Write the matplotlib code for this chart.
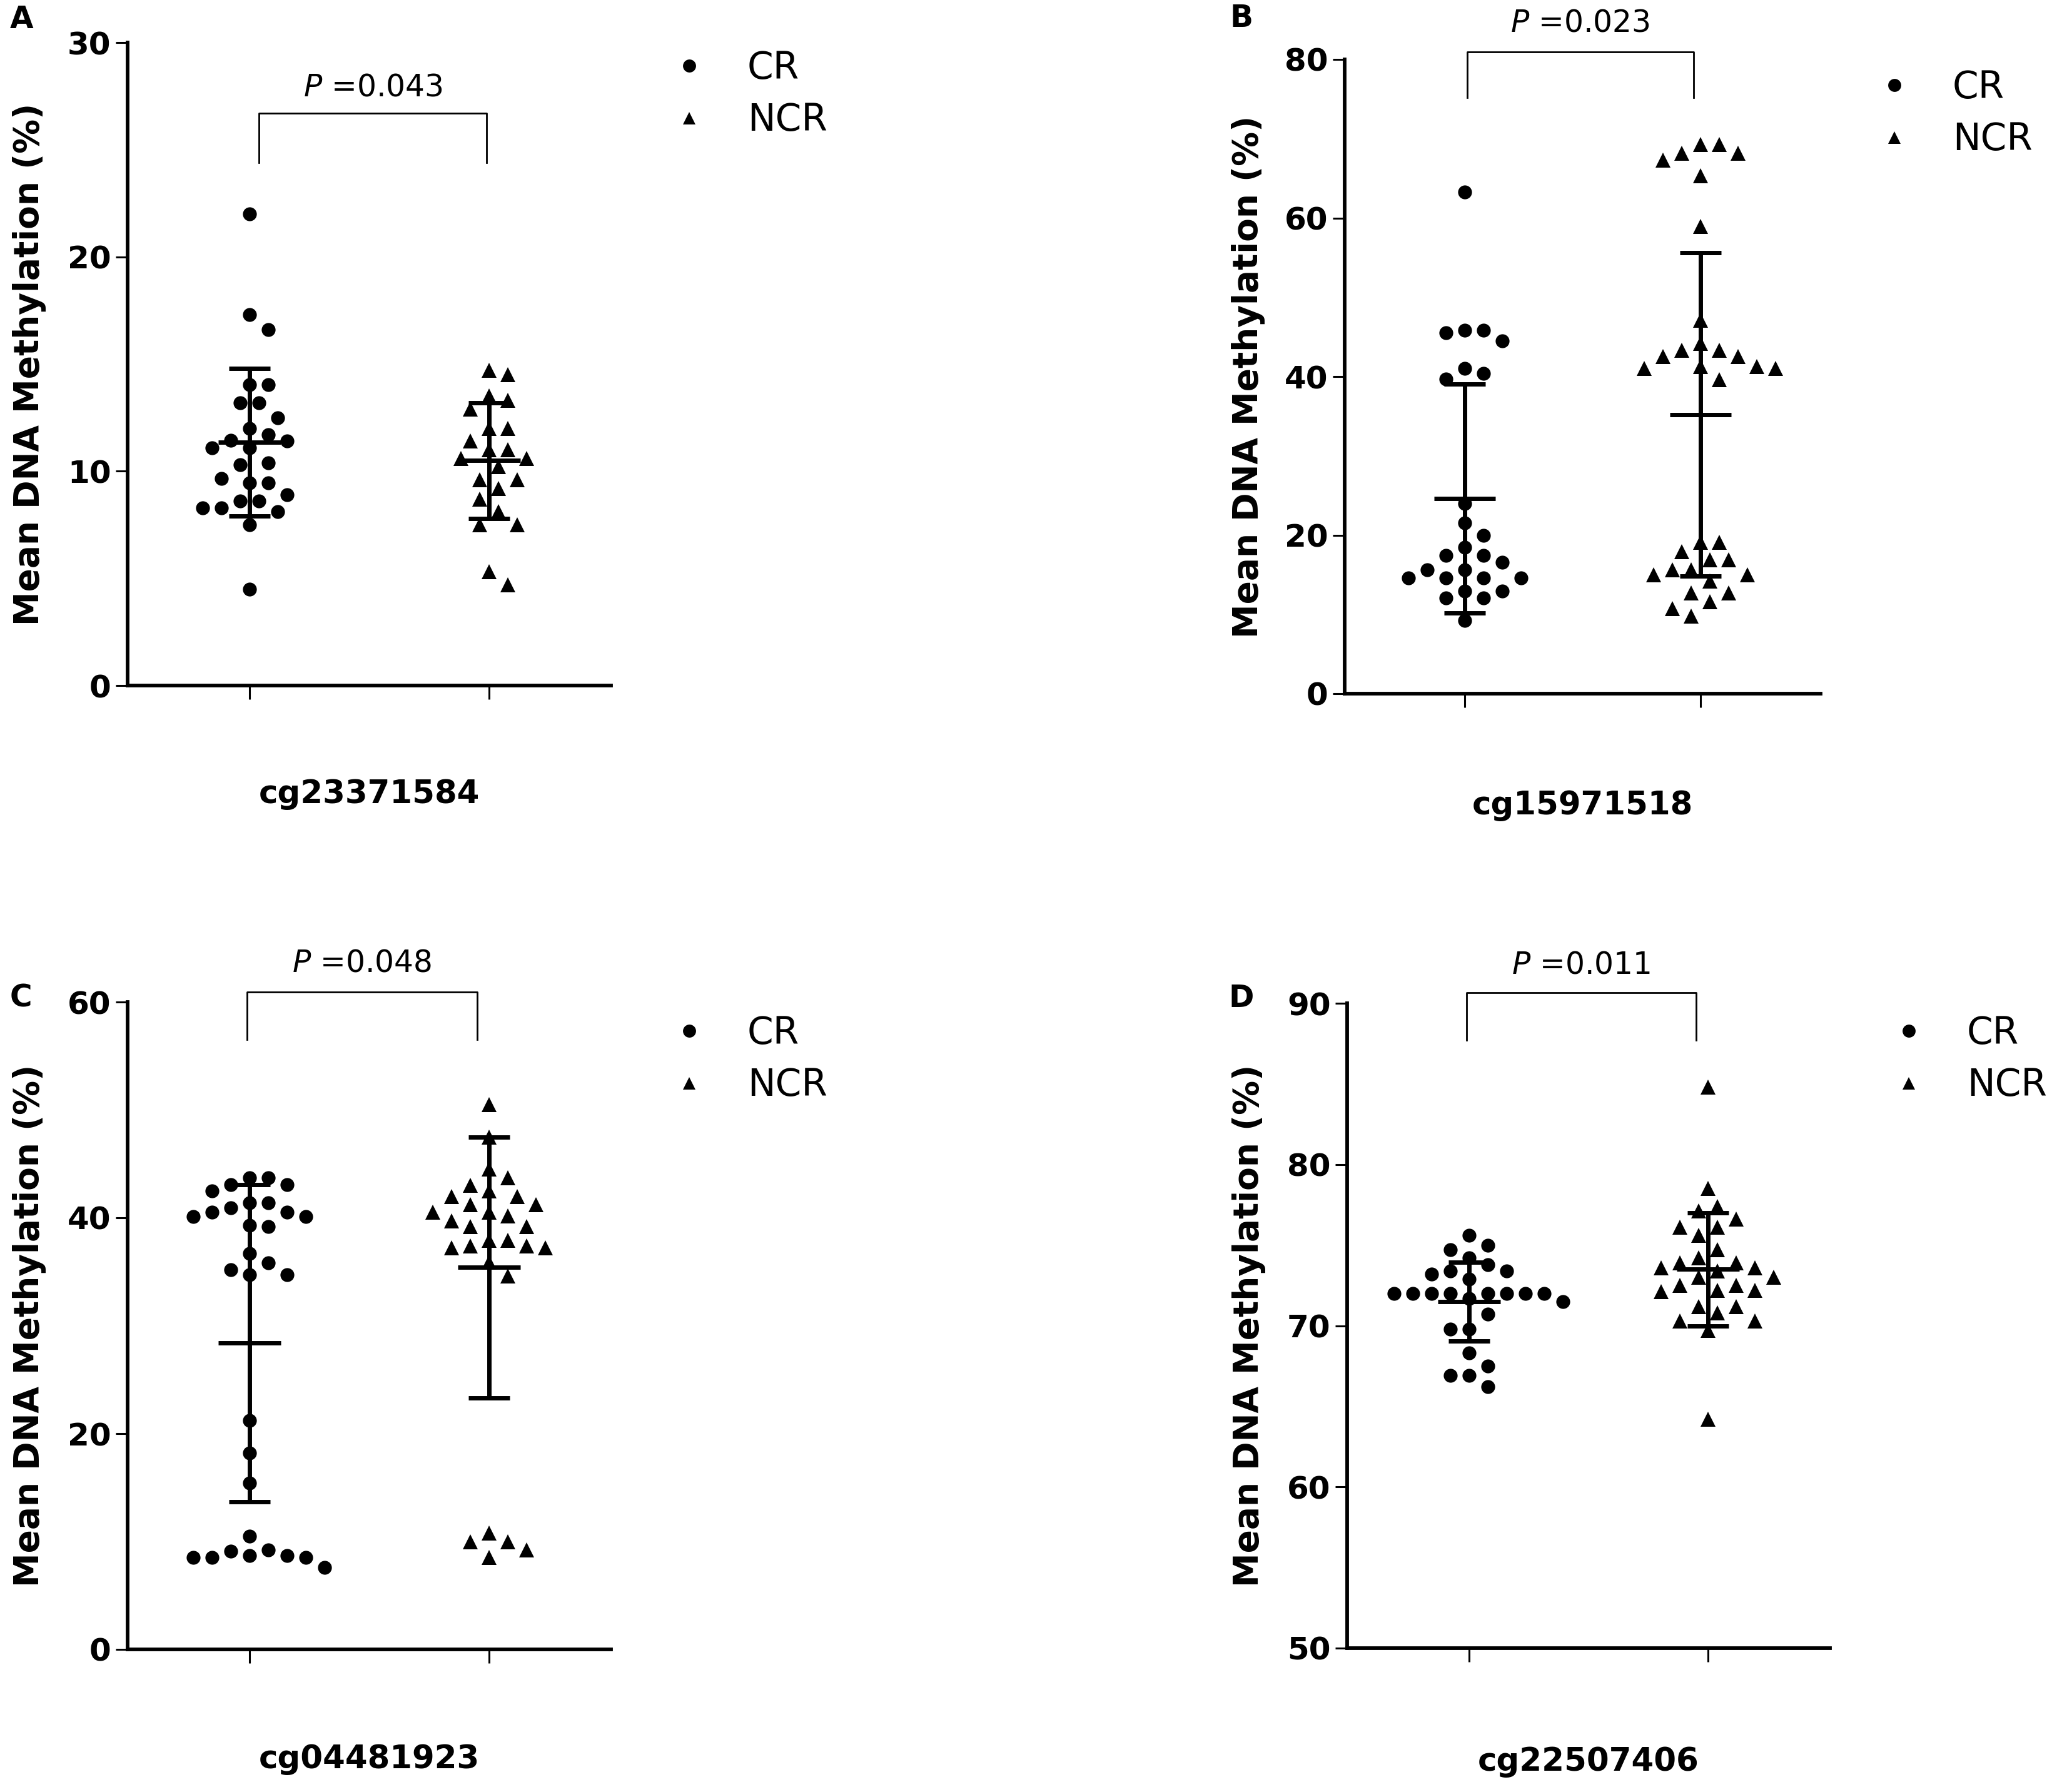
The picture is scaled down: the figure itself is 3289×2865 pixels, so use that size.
import numpy as np
import matplotlib.pyplot as plt
from matplotlib.lines import Line2D

# values (mean DNA methylation, %)
groups = ["CR", "NCR"]
probes = ["cg23371584", "cg15971518", "cg04481923", "cg22507406"]
letters = ["A", "B", "C", "D"]
p_labels = ["0.043", "0.023", "0.048", "0.011"]

a_cr = [22.0, 17.3, 16.6, 14.05, 14.05, 13.2, 13.2, 12.5, 12.0, 11.7, 11.45,
        11.4, 11.1, 11.1, 10.4, 10.3, 9.65, 9.45, 9.45, 8.9, 8.6, 8.6, 8.3, 8.3,
        8.1, 7.5, 4.5]
a_ncr = [14.7, 14.5, 13.5, 13.3, 12.9, 12.0, 12.0, 11.4, 11.0, 11.0, 10.6, 10.6,
         10.2, 9.6, 9.6, 9.2, 8.7, 8.1, 7.5, 7.5, 5.3, 4.7]
b_cr = [63.3, 45.8, 45.8, 45.5, 44.5, 41.0, 40.4, 39.7, 24.0, 21.5, 20.0, 18.5,
        17.4, 17.4, 16.6, 15.6, 15.6, 14.6, 14.6, 14.6, 14.6, 12.9, 12.9, 12.1,
        12.1, 9.2]
b_ncr = [69.3, 69.3, 68.2, 68.2, 67.3, 65.3, 58.9, 47.1, 44.2, 43.3, 43.3, 42.5,
         42.5, 41.3, 41.3, 41.0, 41.0, 39.6, 19.1, 19.1, 17.9, 16.9, 16.9, 15.6,
         15.6, 15.0, 15.0, 14.2, 12.7, 12.7, 11.6, 10.7, 9.8]
c_cr = [43.7, 43.7, 43.1, 43.1, 42.5, 41.4, 41.4, 40.9, 40.5, 40.5, 40.1, 40.1,
        39.3, 39.2, 36.7, 35.8, 35.2, 34.7, 34.7, 21.2, 18.2, 15.4, 10.5, 9.2,
        9.1, 8.7, 8.7, 8.5, 8.5, 8.5, 7.6]
c_ncr = [50.5, 47.5, 44.5, 43.7, 43.0, 42.5, 42.0, 42.0, 41.2, 41.2, 40.5, 40.5,
         40.2, 39.7, 39.2, 39.2, 37.9, 37.9, 37.4, 37.4, 37.2, 37.2, 35.9, 34.6,
         10.8, 10.0, 10.0, 9.2, 8.5]
d_cr = [75.6, 75.0, 74.7, 74.2, 73.8, 73.4, 73.4, 73.2, 72.9, 72.0, 72.0, 72.0,
        72.0, 72.0, 72.0, 72.0, 72.0, 71.7, 71.5, 70.7, 69.8, 69.8, 68.3, 67.5,
        66.9, 66.9, 66.2]
d_ncr = [84.8, 78.5, 77.4, 77.1, 76.6, 76.1, 76.1, 75.6, 74.7, 74.2, 73.9, 73.9,
         73.6, 73.6, 73.4, 73.0, 73.0, 72.5, 72.5, 72.2, 72.2, 72.1, 71.2, 71.2,
         70.8, 70.3, 70.3, 69.7, 64.2]

# mean and SD bars as drawn
means = [(11.35, 10.5), (24.6, 35.2), (28.4, 35.4), (71.5, 73.5)]
sds = [(3.45, 2.7), (14.45, 20.4), (14.7, 12.1), (2.45, 3.5)]

series = [(a_cr, a_ncr), (b_cr, b_ncr), (c_cr, c_ncr), (d_cr, d_ncr)]
ylims = [(0, 30), (0, 80), (0, 60), (50, 90)]
ysteps = [10, 20, 20, 10]

# layout (pixels in the 3289 x 2865 figure)
W, H = 3289, 2865
boxes = [(204, 68, 977, 1096), (2150, 95, 2911, 1109),
         (204, 1602, 977, 2637), (2154, 1604, 2926, 2635)]
letter_pos = [(35, 31), (1985, 29), (33, 1596), (1985, 1596)]
legend_pos = [(1072, 80), (2999, 111), (1072, 1623), (3022, 1623)]
bracket_x = [(0.04, 0.99), (0.01, 0.97), (-0.01, 0.95), (-0.01, 0.95)]
bracket_y = [(24.4, 26.7, 27.9), (75.2, 80.97, 84.6),
             (56.5, 60.9, 63.6), (87.7, 90.66, 92.4)]
xlabel_y = [-0.169, -0.177, -0.170, -0.177]
markers = ["o", "^"]
msizes = [16, 17]


def swarm(ax, values, center, dist_px=30):
    # simple beeswarm: offsets computed from the values in pixel space
    x0, y0 = ax.transData.transform((0, 0))
    x1, y1 = ax.transData.transform((1, 1))
    sx, sy = x1 - x0, y1 - y0
    vals = np.asarray(values, dtype=float)
    xs = np.zeros(len(vals))
    placed = []
    step = dist_px / 2
    for i in np.argsort(vals)[::-1]:
        ypx = vals[i] * sy
        chosen = 0.0
        for k in range(200):
            found = False
            for sign in ([1] if k == 0 else [1, -1]):
                off = sign * k * step
                if all((off - px) ** 2 + (ypx - py) ** 2 >= dist_px ** 2 for px, py in placed):
                    chosen = off
                    found = True
                    break
            if found:
                break
        placed.append((chosen, ypx))
        xs[i] = center + chosen / sx
    return xs


fig = plt.figure(figsize=(W / 100, H / 100), dpi=100)

for p in range(4):
    l, t, r, b = boxes[p]
    ax = fig.add_axes([l / W, 1 - b / H, (r - l) / W, (b - t) / H])
    ax.set_xlim(-0.51, 1.51)
    ax.set_ylim(*ylims[p])
    ax.spines["top"].set_visible(False)
    ax.spines["right"].set_visible(False)
    for s in ["left", "bottom"]:
        ax.spines[s].set_linewidth(4.2)
    ax.set_xticks([0, 1])
    ax.set_xticklabels([])
    ax.set_yticks(np.arange(ylims[p][0], ylims[p][1] + 1, ysteps[p]))
    ax.tick_params(axis="y", length=14, width=2.2, pad=5, labelsize=36)
    ax.tick_params(axis="x", length=16, width=2.2)
    for lab in ax.get_yticklabels():
        lab.set_fontweight("bold")

    for g in range(2):
        vals = series[p][g]
        xs = swarm(ax, vals, g)
        ax.plot(xs, vals, linestyle="none", marker=markers[g], markersize=msizes[g],
                color="black", markeredgewidth=0, zorder=3)
        m, sd = means[p][g], sds[p][g]
        ax.errorbar([g], [m], yerr=[sd], fmt="none", ecolor="black",
                    elinewidth=5, capsize=24, capthick=5, zorder=4)
        ax.hlines(m, g - 0.13, g + 0.13, color="black", linewidth=5, zorder=4)

    # significance bracket
    bx0, bx1 = bracket_x[p]
    yb, yt, ytxt = bracket_y[p]
    ax.plot([bx0, bx0, bx1, bx1], [yb, yt, yt, yb], color="black", linewidth=2.0,
            clip_on=False)
    ax.text((bx0 + bx1) / 2, ytxt, "$P$ =" + p_labels[p], ha="center", va="center",
            fontsize=35, clip_on=False)

    ax.set_ylabel("Mean DNA Methylation (%)", fontsize=39.5, fontweight="bold", va="center")
    ax.yaxis.set_label_coords(-0.203, 0.5)
    ax.set_xlabel(probes[p], fontsize=37, fontweight="bold", va="center")
    ax.xaxis.set_label_coords(0.5, xlabel_y[p])

    handles = [Line2D([], [], linestyle="none", marker=markers[g], markersize=15,
                      color="black", markeredgewidth=0) for g in range(2)]
    lx, ly = legend_pos[p]
    ax.legend(handles, groups, loc="upper left", bbox_to_anchor=(lx / W, 1 - ly / H),
              bbox_transform=fig.transFigure, frameon=False, fontsize=43,
              handlelength=1.0, handletextpad=1.06, labelspacing=0.41,
              borderpad=0, borderaxespad=0, numpoints=1)

    fx, fy = letter_pos[p]
    fig.text(fx / W, 1 - fy / H, letters[p], fontsize=35, fontweight="bold",
             ha="center", va="center")

fig.savefig("out.png", dpi=100)
